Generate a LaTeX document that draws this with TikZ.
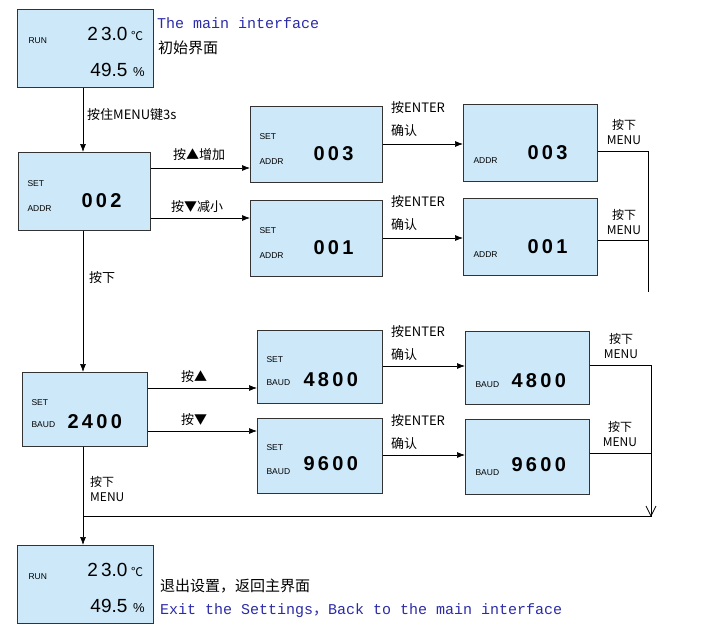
\documentclass[tikz,border=0pt]{standalone}
\usepackage{fontspec}
\setmainfont{Liberation Sans}
\newfontfamily\cjk{Noto Sans CJK SC}
\newfontfamily\mono{Liberation Mono}
\usetikzlibrary{arrows.meta}
\definecolor{lcd}{HTML}{CDE8F8}
\definecolor{txtblue}{HTML}{2B2BA8}
\tikzset{
 lcdbox/.style={draw=black!80,line width=0.9pt,fill=lcd,anchor=north west,inner sep=0},
 small/.style={font=\fontsize{8.5}{9}\selectfont,anchor=west},
 big/.style={font=\fontsize{20}{22}\selectfont\bfseries,anchor=west},
 lab/.style={font=\cjk\fontsize{13}{15}\selectfont,anchor=west,inner sep=1pt},
 enterlab/.style={font=\cjk\fontsize{13}{23}\selectfont,anchor=west,inner sep=1pt,align=left},
 menulab/.style={font=\cjk\fontsize{12}{15}\selectfont,align=center,inner sep=1pt},
 conn/.style={line width=0.7pt,-{Latex[length=8pt,width=6pt]}},
 line/.style={line width=0.7pt},
}
\begin{document}
\begin{tikzpicture}[x=1pt,y=-1pt]
\useasboundingbox (0,0) rectangle (705,632);
\newcommand\mainbox[2]{%
 \node[lcdbox,minimum width=136pt,minimum height=78pt] (#1) at (17,#2) {};
 \node[small] at (25,#2+32) {RUN};
 \node[font=\fontsize{19}{20}\selectfont,anchor=east] at (131,#2+25) {2\,3.0};
 \node[font=\cjk\fontsize{12}{12}\selectfont,anchor=west,inner sep=0] at (131,#2+27) {℃};
 \node[font=\fontsize{19}{20}\selectfont,anchor=east] at (131,#2+61) {49.5};
 \node[font=\fontsize{13}{14}\selectfont,anchor=west,inner sep=0] at (133,#2+63) {\%};
}
\mainbox{m1}{9}
\mainbox{m2}{545}
\node[anchor=west,font=\mono\fontsize{15}{16}\selectfont,text=txtblue,inner sep=0] (t1) at (157,23) {The main interface};
\node[anchor=west,font=\cjk\fontsize{15}{16}\selectfont,inner sep=0] (t2) at (158,48) {初始界面};
\node[anchor=west,font=\cjk\fontsize{15}{16}\selectfont,inner sep=0] (t3) at (160,586) {退出设置，返回主界面};
\node[anchor=west,font=\mono\fontsize{15}{16}\selectfont,text=txtblue,inner sep=0] (t4) at (160,611) {Exit the Settings{\cjk ，}Back to the main interface};

% ADDR column
\node[lcdbox,minimum width=132pt,minimum height=78pt] (a2) at (18,152) {};
\node[small] at (24,184) {SET}; \node[small] at (24,209) {ADDR};
\node[big] at (78,201) {0\,0\,2};
\node[lcdbox,minimum width=132pt,minimum height=76pt] (a3) at (250,106) {};
\node[small] at (256,137) {SET}; \node[small] at (256,162) {ADDR};
\node[big] at (310,154) {0\,0\,3};
\node[lcdbox,minimum width=132pt,minimum height=76pt] (a1) at (250,200) {};
\node[small] at (256,231) {SET}; \node[small] at (256,256) {ADDR};
\node[big] at (310,248) {0\,0\,1};
\node[lcdbox,minimum width=134pt,minimum height=77pt] (c3) at (463,104) {};
\node[small] at (470,161) {ADDR}; \node[big] at (524,153) {0\,0\,3};
\node[lcdbox,minimum width=134pt,minimum height=77pt] (c1) at (463,198) {};
\node[small] at (470,255) {ADDR}; \node[big] at (524,247) {0\,0\,1};

% BAUD column
\node[lcdbox,minimum width=125pt,minimum height=74pt] (b2) at (22,372) {};
\node[small] at (28,403) {SET}; \node[small] at (28,425) {BAUD};
\node[big] at (64,422) {2\,4\,0\,0};
\node[lcdbox,minimum width=125pt,minimum height=73pt] (b4) at (257,330) {};
\node[small] at (263,360) {SET}; \node[small] at (263,383) {BAUD};
\node[big] at (300,380) {4\,8\,0\,0};
\node[lcdbox,minimum width=125pt,minimum height=75pt] (b9) at (257,418) {};
\node[small] at (263,448) {SET}; \node[small] at (263,472) {BAUD};
\node[big] at (300,464) {9\,6\,0\,0};
\node[lcdbox,minimum width=124pt,minimum height=73pt] (d4) at (465,331) {};
\node[small] at (472,385) {BAUD}; \node[big] at (508,381) {4\,8\,0\,0};
\node[lcdbox,minimum width=124pt,minimum height=75pt] (d9) at (465,419) {};
\node[small] at (472,473) {BAUD}; \node[big] at (508,465) {9\,6\,0\,0};

% connectors
\draw[conn] (m1.south -| 83,0) -- (a2.north -| 83,0);
\node[lab] at (86,115) {按住MENU键3s};
\draw[conn] (a2.east |- 0,168) -- (a3.west |- 0,168);
\node[lab] at (172,155) {按▲增加};
\draw[conn] (a2.east |- 0,218) -- (a1.west |- 0,218);
\node[lab] at (170,207) {按▼减小};
\draw[conn] (a3.east |- 0,144) -- (c3.west |- 0,144);
\node[enterlab] at (390,119) {按ENTER\\确认};
\draw[conn] (a1.east |- 0,238) -- (c1.west |- 0,238);
\node[enterlab] at (390,213) {按ENTER\\确认};
\coordinate (r1) at (648,151);
\coordinate (r2) at (648,292);
\draw[line] (c3.east |- r1) -- (r1) -- (r2);
\draw[line] (c1.east |- 0,240) -- (648,240);
\node[menulab] at (624,132) {按下\\MENU};
\node[menulab] at (624,222) {按下\\MENU};
\draw[conn] (a2.south -| 83,0) -- (b2.north -| 83,0);
\node[lab] at (88,278) {按下};

\draw[conn] (b2.east |- 0,388) -- (b4.west |- 0,388);
\node[lab] at (180,377) {按▲};
\draw[conn] (b2.east |- 0,431) -- (b9.west |- 0,431);
\node[lab] at (180,420) {按▼};
\draw[conn] (b4.east |- 0,366) -- (d4.west |- 0,366);
\node[enterlab] at (390,343) {按ENTER\\确认};
\draw[conn] (b9.east |- 0,455) -- (d9.west |- 0,455);
\node[enterlab] at (390,432) {按ENTER\\确认};
\coordinate (r3) at (651,365);
\coordinate (r4) at (651,516);
\coordinate (l4) at (83,516);
\draw[line] (d4.east |- r3) -- (r3) -- (r4) -- (l4);
\draw[line] (646,506) -- (r4) -- (656,506);
\draw[line] (d9.east |- 0,453) -- (651,453);
\node[menulab] at (621,346) {按下\\MENU};
\node[menulab] at (620,434) {按下\\MENU};
\draw[conn] (b2.south -| 83,0) -- (m2.north -| 83,0);
\node[menulab,align=left,anchor=west] at (89,489) {按下\\MENU};
\end{tikzpicture}
\end{document}
